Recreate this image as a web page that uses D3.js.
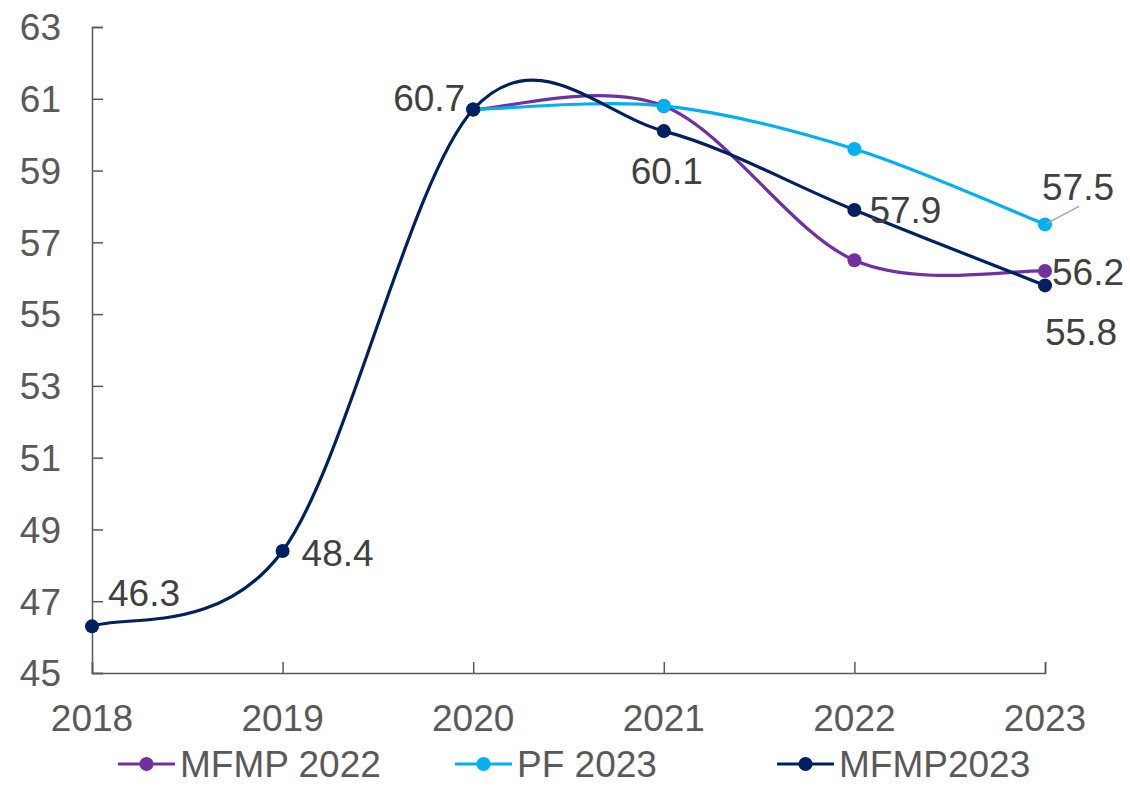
<!DOCTYPE html>
<html>
<head>
<meta charset="utf-8">
<script src="https://cdn.jsdelivr.net/npm/d3@7"></script>
<style>
  body { margin: 0; background: #fff; }
  text { font-family: "Liberation Sans", Arial, sans-serif; }
</style>
</head>
<body>
<div id="chart"></div>
<script>
// data
const years = ['2018', '2019', '2020', '2021', '2022', '2023'];
const mfmp2022 = [null, null, 60.7, 60.8, 56.5, 56.2];
const pf2023 = [null, null, 60.7, 60.8, 59.6, 57.5];
const mfmp2023 = [46.3, 48.4, 60.7, 60.1, 57.9, 55.8];
const yTicks = [45, 47, 49, 51, 53, 55, 57, 59, 61, 63];
const seriesNames = ['MFMP 2022', 'PF 2023', 'MFMP2023'];

const w = 1130, h = 786;
const colors = ['#7030A0', '#00B0F0', '#002060'];
const fs = 37;

const svg = d3.select('#chart').append('svg')
  .attr('width', w)
  .attr('height', h);

const x = d3.scalePoint().domain(years).range([92, 1045]);
const y = d3.scaleLinear().domain([45, 63]).range([673, 27]);

// smoothed line like the spreadsheet one (tangent = neighbour chord / 6)
const smoothCurve = context => ({
  pts: [],
  areaStart() {},
  areaEnd() {},
  lineStart() { this.pts = []; },
  point(px, py) { this.pts.push([px, py]); },
  lineEnd() {
    const p = this.pts, n = p.length;
    if (!n) return;
    context.moveTo(p[0][0], p[0][1]);
    for (let i = 0; i < n - 1; i++) {
      const a = p[Math.max(i - 1, 0)], b = p[i], c = p[i + 1], d = p[Math.min(i + 2, n - 1)];
      context.bezierCurveTo(
        b[0] + (c[0] - a[0]) / 6, b[1] + (c[1] - a[1]) / 6,
        c[0] - (d[0] - b[0]) / 6, c[1] - (d[1] - b[1]) / 6,
        c[0], c[1]);
    }
  }
});

// axes
const axisColor = '#595959';
const yAxis = svg.append('g')
  .attr('transform', 'translate(92,0)')
  .call(d3.axisRight(y).tickValues(yTicks).tickSize(11).tickFormat(''));
const xAxis = svg.append('g')
  .attr('transform', 'translate(0,673)')
  .call(d3.axisTop(x).tickSize(11).tickFormat(''));
[yAxis, xAxis].forEach(g => {
  g.select('.domain').attr('stroke', axisColor).attr('stroke-width', 1.5);
  g.selectAll('.tick line').attr('stroke', axisColor).attr('stroke-width', 1.5);
});

svg.append('g').selectAll('text')
  .data(yTicks)
  .join('text')
  .attr('x', 61)
  .attr('y', d => y(d))
  .attr('dy', '0.36em')
  .attr('text-anchor', 'end')
  .attr('font-size', fs)
  .attr('fill', axisColor)
  .text(d => d);

svg.append('g').selectAll('text')
  .data(years)
  .join('text')
  .attr('x', d => x(d))
  .attr('y', 718)
  .attr('dy', '0.36em')
  .attr('text-anchor', 'middle')
  .attr('font-size', fs)
  .attr('fill', axisColor)
  .text(d => d);

// lines
const allSeries = [mfmp2022, pf2023, mfmp2023];
const line = d3.line()
  .defined(d => d.v != null)
  .x(d => x(d.year))
  .y(d => y(d.v))
  .curve(smoothCurve);

allSeries.forEach((vals, i) => {
  const pts = years.map((yr, j) => ({ year: yr, v: vals[j] }));
  const g = svg.append('g');
  g.append('path')
    .datum(pts)
    .attr('d', line)
    .attr('fill', 'none')
    .attr('stroke', colors[i])
    .attr('stroke-width', 3.2);
  g.selectAll('circle')
    .data(pts.filter(d => d.v != null))
    .join('circle')
    .attr('cx', d => x(d.year))
    .attr('cy', d => y(d.v))
    .attr('r', 7)
    .attr('fill', colors[i]);
});

// data labels (series index, year, offset from point)
const labels = [
  [2, '2018', 16, -34],
  [2, '2019', 19, 2],
  [2, '2020', -80, -12],
  [2, '2021', -33, 40],
  [2, '2022', 15, 0],
  [1, '2023', -3, -38],
  [0, '2023', 7, 1],
  [2, '2023', 0, 46]
];

// leader line for 57.5
svg.append('line')
  .attr('x1', x('2023') + 2)
  .attr('y1', y(pf2023[5]) - 1)
  .attr('x2', x('2023') + 34)
  .attr('y2', y(pf2023[5]) - 18)
  .attr('stroke', '#A6A6A6')
  .attr('stroke-width', 1.5);

svg.append('g').selectAll('text')
  .data(labels)
  .join('text')
  .attr('x', d => x(d[1]) + d[2])
  .attr('y', d => y(allSeries[d[0]][years.indexOf(d[1])]) + d[3])
  .attr('dy', '0.36em')
  .attr('font-size', fs)
  .attr('fill', '#404040')
  .text(d => allSeries[d[0]][years.indexOf(d[1])].toFixed(1));

// legend
const legendX = [118, 455, 777];
const legend = svg.append('g').selectAll('g')
  .data(seriesNames)
  .join('g')
  .attr('transform', (d, i) => `translate(${legendX[i]},764)`);
legend.append('line')
  .attr('x1', 0).attr('x2', 57)
  .attr('stroke', (d, i) => colors[i])
  .attr('stroke-width', 3.2);
legend.append('circle')
  .attr('cx', 28.5)
  .attr('r', 7)
  .attr('fill', (d, i) => colors[i]);
legend.append('text')
  .attr('x', 62)
  .attr('dy', '0.36em')
  .attr('font-size', fs)
  .attr('fill', axisColor)
  .text(d => d);
</script>
</body>
</html>
